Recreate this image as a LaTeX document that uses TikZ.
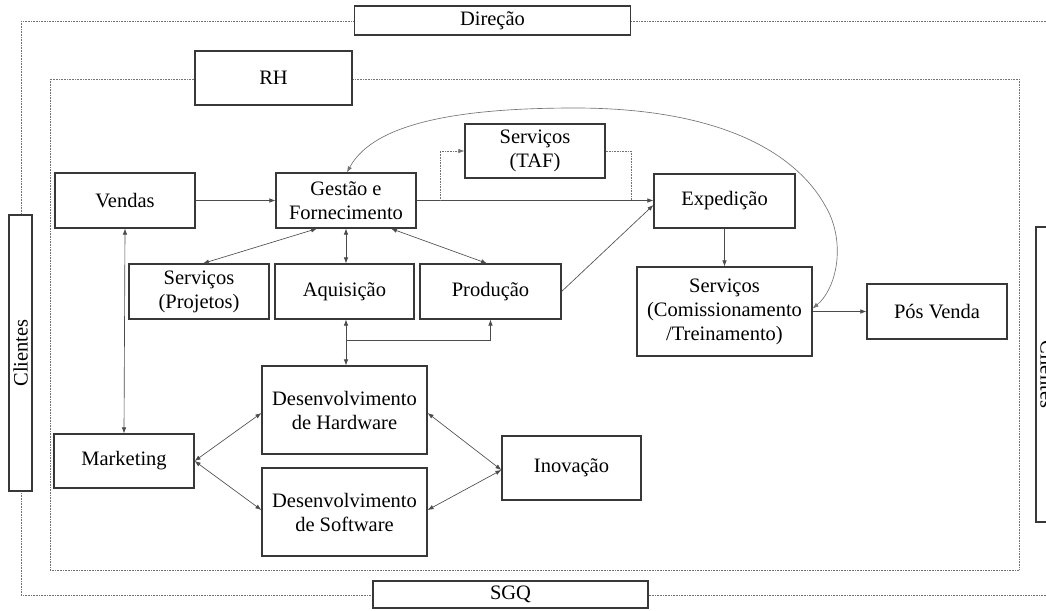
\documentclass[tikz,border=0pt]{standalone}
\usepackage{fontspec}
\setmainfont{Liberation Serif}
\usetikzlibrary{arrows.meta,calc}
\begin{document}
\begin{tikzpicture}[x=1pt,y=-1pt,
  box/.style={draw=black!78, line width=1.2pt, fill=white, align=center,
    inner sep=1pt, font=\fontsize{20.5}{24}\selectfont},
  link/.style={draw=black!70, line width=0.65pt},
  tip/.style={-{Latex[length=6pt,width=4.5pt]}},
  tips/.style={{Latex[length=6pt,width=4.5pt]}-{Latex[length=6pt,width=4.5pt]}},
  frame/.style={draw=black!55, line width=0.6pt, densely dotted},
]
\useasboundingbox (0,0) rectangle (1046,610);
\clip (0,0) rectangle (1046,610);

% dotted frames
\draw[frame] (21,21) rectangle (1047.5,595);
\draw[frame] (50,79) rectangle (1019,570);

% boxes on the frames
\node[box, minimum width=276, minimum height=29] (dir) at (492.5,20.5) {Direção};
\node[box, minimum width=275, minimum height=27] (sgq) at (510.5,594.5) {SGQ};
\node[box, minimum width=157, minimum height=54] (rh) at (273.5,78) {RH};
\node[box, rotate=90, minimum width=276, minimum height=23] (cliL) at (20.5,353) {Clientes};
\node[box, rotate=-90, minimum width=295, minimum height=23] (cliR) at (1047.5,374.5) {Clientes};

% process boxes
\node[box, minimum width=140, minimum height=55] (vendas) at (125,200.5) {Vendas};
\node[box, minimum width=140, minimum height=55] (gestao) at (346,200.5) {Gestão e\\Fornecimento};
\node[box, minimum width=140, minimum height=54] (taf) at (535,151) {Serviços\\(TAF)};
\node[box, minimum width=141, minimum height=54] (exped) at (724.5,201) {Expedição};
\node[box, minimum width=175, minimum height=89] (servcom) at (724.5,311.5) {Serviços\\(Comissionamento\\/Treinamento)};
\node[box, minimum width=140, minimum height=55] (pos) at (937,311.5) {Pós Venda};
\node[box, minimum width=140, minimum height=55] (servproj) at (199,291.5) {Serviços\\(Projetos)};
\node[box, minimum width=139, minimum height=55] (aquis) at (344.5,291.5) {Aquisição};
\node[box, minimum width=141, minimum height=55] (prod) at (490.5,291.5) {Produção};
\node[box, minimum width=165, minimum height=88] (hw) at (344.5,410) {Desenvolvimento\\de Hardware};
\node[box, minimum width=165, minimum height=88] (sw) at (344.5,512) {Desenvolvimento\\de Software};
\node[box, minimum width=140, minimum height=54] (mkt) at (124,461) {Marketing};
\node[box, minimum width=139, minimum height=64] (inov) at (571.5,468) {Inovação};

% connectors
\draw[link, tip] (vendas.east) -- (gestao.west);
\draw[link, tip] (gestao.east) -- (gestao.east -| exped.west);
\coordinate (tafin) at (440,200.5);
\coordinate (tafout) at (631,200.5);
\draw[frame, tip] (tafin) |- (taf.west);
\draw[frame] (taf.east) -| (tafout);
\draw[link, tip] (prod.east) -- ($(exped.west)+(0,4)$);
\draw[link, tip] (exped.south) -- (servcom.north);
\draw[link, tip] (servcom.east) -- (pos.west);
\draw[link, tips, draw=black!55] ($(gestao.north)+(1,0)$)
  .. controls (375,120) and (470,108) .. (575,108)
  .. controls (715,108) and (800,150) .. (830,215)
  .. controls (845,250) and (835,290) .. ($(servcom.east)+(0,-3)$);
\draw[link, tips] ($(gestao.south)+(-29,0)$) -- ($(servproj.north)+(4,0)$);
\draw[link, tips] ($(gestao.south)+(0,0)$) -- ($(aquis.north)+(1.5,0)$);
\draw[link, tips] ($(gestao.south)+(45,0)$) -- ($(prod.north)+(-3.5,0)$);
\draw[link, tips] ($(aquis.south)+(1.5,0)$) -- ($(hw.north)+(1.5,0)$);
\coordinate (branch) at (346,340);
\draw[link, tip] (branch) -| (prod.south);
\draw[link, tips] (vendas.south) -- (mkt.north);
\draw[link, tips] (mkt.east) -- ($(hw.west)+(0,3)$);
\draw[link, tips] (mkt.east) -- ($(sw.west)+(0,-2)$);
\draw[link, tips] ($(hw.east)+(0,3)$) -- ($(inov.west)+(0,2)$);
\draw[link, tips] ($(sw.east)+(0,-2)$) -- ($(inov.west)+(0,2)$);
\end{tikzpicture}
\end{document}
